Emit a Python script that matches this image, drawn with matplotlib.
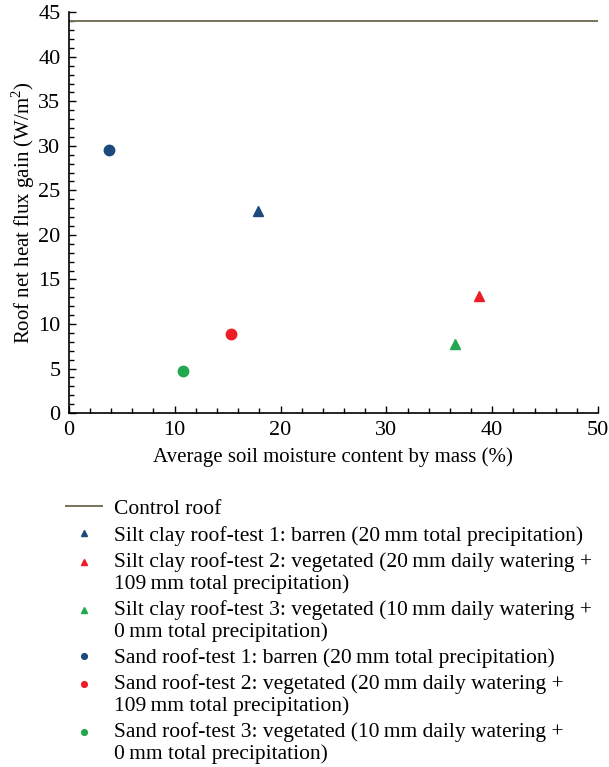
import matplotlib.pyplot as plt
from matplotlib.ticker import MultipleLocator
from matplotlib.legend_handler import HandlerLine2D

plt.rcParams['font.family'] = ['Liberation Serif', 'DejaVu Serif']
plt.rcParams['mathtext.fontset'] = 'custom'
plt.rcParams['mathtext.rm'] = 'Liberation Serif'

# control roof heat flux gain (W/m2)
control_gain = 44.0

# silt clay roof tests (triangles)
silt_moisture = [17.9, 38.8, 36.5]
silt_gain = [22.7, 13.1, 7.8]
silt_labels = [
    'Silt clay roof-test 1: barren (20\u2009mm total precipitation)',
    'Silt clay roof-test 2: vegetated (20\u2009mm daily watering +\n109\u2009mm total precipitation)',
    'Silt clay roof-test 3: vegetated (10\u2009mm daily watering +\n0\u2009mm total precipitation)',
]

# sand roof tests (circles)
sand_moisture = [3.8, 15.3, 10.8]
sand_gain = [29.5, 8.9, 4.7]
sand_labels = [
    'Sand roof-test 1: barren (20\u2009mm total precipitation)',
    'Sand roof-test 2: vegetated (20\u2009mm daily watering +\n109\u2009mm total precipitation)',
    'Sand roof-test 3: vegetated (10\u2009mm daily watering +\n0\u2009mm total precipitation)',
]

colors = ['#1c4a7c', '#ee1c25', '#22a84e']


class FirstLineHandler(HandlerLine2D):
    # put the legend marker next to the first line of a two-line label
    def __init__(self, shift, **kw):
        super().__init__(**kw)
        self.shift = shift

    def create_artists(self, legend, orig_handle, xdescent, ydescent,
                       width, height, fontsize, trans):
        arts = super().create_artists(legend, orig_handle, xdescent, ydescent,
                                      width, height, fontsize, trans)
        for a in arts:
            a.set_ydata([y + self.shift for y in a.get_ydata()])
        return arts


fig = plt.figure(figsize=(6.09, 7.67), dpi=100)
ax = fig.add_axes([0.113, 0.4615, 0.869, 0.5225])

handles = []
handles += ax.plot([0, 50], [control_gain, control_gain], color='#77735c', lw=1.4,
                   label='Control roof')
for x, y, c, lab in zip(silt_moisture, silt_gain, colors, silt_labels):
    handles += ax.plot(x, y, '^', color=c, ms=7.5, ls='none', label=lab)
for x, y, c, lab in zip(sand_moisture, sand_gain, colors, sand_labels):
    handles += ax.plot(x, y, 'o', color=c, ms=7.5, ls='none', label=lab)

ax.set_xlim(0, 50)
ax.set_ylim(0, 45)
ax.xaxis.set_major_locator(MultipleLocator(10))
ax.xaxis.set_minor_locator(MultipleLocator(2))
ax.yaxis.set_major_locator(MultipleLocator(5))
ax.yaxis.set_minor_locator(MultipleLocator(1))
ax.tick_params(which='both', direction='in', labelsize=16, width=1)
ax.tick_params(which='major', length=5, pad=6)
ax.tick_params(which='minor', length=3.5)
ax.spines['top'].set_visible(False)
ax.spines['right'].set_visible(False)
ax.spines['left'].set_linewidth(1.2)
ax.spines['bottom'].set_linewidth(1.2)

ax.set_xlabel('Average soil moisture content by mass (%)', fontsize=15, labelpad=5)
ax.set_ylabel('Roof net heat flux gain (W/m$^2$)', fontsize=15, labelpad=1)

hmap = {}
for h in handles:
    if '\n' in h.get_label():
        hmap[h] = FirstLineHandler(7.5)

leg = fig.legend(handles=handles, handler_map=hmap, loc='upper left',
                 bbox_to_anchor=(0.108, 0.3495), frameon=False,
                 fontsize=15.5, markerscale=0.55, handlelength=1.7, handletextpad=0.55,
                 labelspacing=0.3, borderaxespad=0, borderpad=0)
for t in leg.get_texts():
    t.set_linespacing(1.13)

plt.savefig('out.png', dpi=100)
